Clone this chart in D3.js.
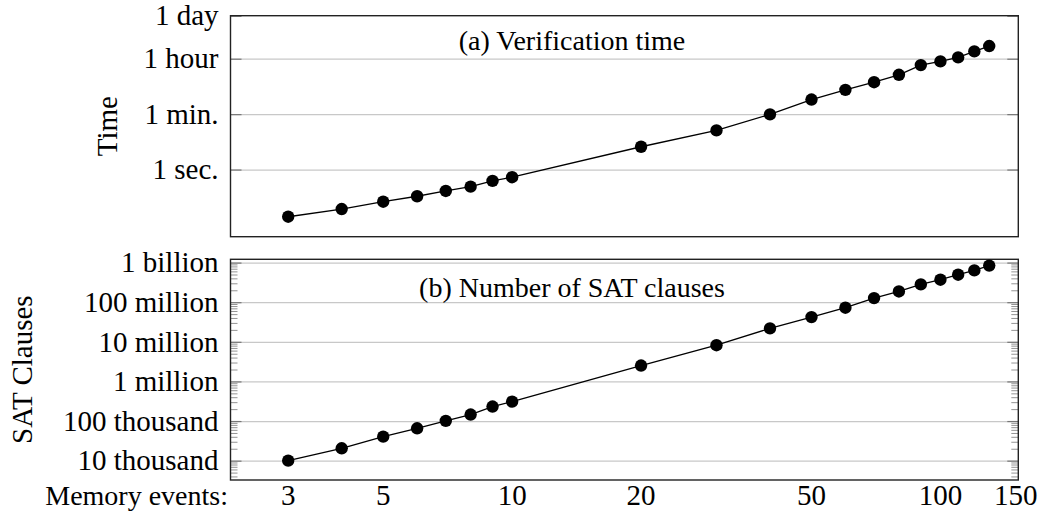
<!DOCTYPE html>
<html>
<head>
<meta charset="utf-8">
<script src="https://cdn.jsdelivr.net/npm/d3@7"></script>
<style>
  body { margin: 0; background: #fff; }
  svg { display: block; }
  svg text { font-family: "Liberation Serif", "DejaVu Serif", serif; fill: #000; }
</style>
</head>
<body>
<svg id="chart" width="1043" height="520"></svg>
<script>
// ---- data ----
const memoryEvents = [3, 4, 5, 6, 7, 8, 9, 10, 20, 30, 40, 50, 60, 70, 80, 90, 100, 110, 120, 130];
const verificationSeconds = [0.0306, 0.054, 0.093, 0.139, 0.206, 0.283, 0.432, 0.569, 5.39, 18.0, 59.1, 176, 361, 635, 1099, 2242, 2950, 3970, 6190, 9180];
const satClauses = [10000, 20500, 40400, 65600, 101000, 146000, 232000, 310000, 2520000, 8200000, 21800000, 42000000, 72600000, 127000000, 187000000, 281000000, 370000000, 494000000, 635000000, 840000000];
const xTickValues = [3, 5, 10, 20, 50, 100, 150];
const timeTickValues = [1, 60, 3600, 86400];
const timeTickLabels = ["1 sec.", "1 min.", "1 hour", "1 day"];
const clauseTickValues = [1e4, 1e5, 1e6, 1e7, 1e8, 1e9];
const clauseTickLabels = ["10 thousand", "100 thousand", "1 million", "10 million", "100 million", "1 billion"];
const titleA = "(a) Verification time";
const titleB = "(b) Number of SAT clauses";

// ---- layout ----
const svg = d3.select("#chart");
const L = 230.5, R = 1018.3;
const topA = 15.7, botA = 236.7;
const topB = 259.3, botB = 480;
const FS = 29, FT = 28;
const FONT = "Liberation Serif, DejaVu Serif, serif";

const x = d3.scaleLog().domain([2.2, 152]).range([L, R]);
const yA = d3.scaleLog().domain([0.007, 86400]).range([botA, topA]);
const yB = d3.scaleLog().domain([3250, 1.21e9]).range([botB, topB]);

function panel(y, top, bot, values, tickVals, tickLabels, minor, title, titleBaseline, ylabel, ylabelX) {
  const g = svg.append("g");
  g.append("g").attr("transform", `translate(${L},0)`)
    .call(d3.axisLeft(y).tickValues(tickVals.filter(v => y(v) > top + 1 && y(v) < bot - 1)).tickSize(-(R - L)).tickFormat(""))
    .call(s => s.select(".domain").remove())
    .call(s => s.selectAll("line").attr("stroke", "#c8c8c8").attr("stroke-width", 1.2));
  if (minor.length) {
    g.append("g").attr("transform", `translate(${L},0)`)
      .call(d3.axisLeft(y).tickValues(minor).tickSize(-7).tickFormat(""))
      .call(s => s.select(".domain").remove())
      .call(s => s.selectAll("line").attr("stroke", "#888").attr("stroke-width", 0.9));
    g.append("g").attr("transform", `translate(${R},0)`)
      .call(d3.axisRight(y).tickValues(minor).tickSize(-7).tickFormat(""))
      .call(s => s.select(".domain").remove())
      .call(s => s.selectAll("line").attr("stroke", "#888").attr("stroke-width", 0.9));
  }
  g.append("g").attr("transform", `translate(${L},0)`)
    .call(d3.axisLeft(y).tickValues(tickVals).tickSize(-11).tickFormat(""))
    .call(s => s.select(".domain").remove())
    .call(s => s.selectAll("line").attr("stroke", "#777").attr("stroke-width", 1.2));
  g.append("g").attr("transform", `translate(${R},0)`)
    .call(d3.axisRight(y).tickValues(tickVals).tickSize(-11).tickFormat(""))
    .call(s => s.select(".domain").remove())
    .call(s => s.selectAll("line").attr("stroke", "#777").attr("stroke-width", 1.2));
  g.append("g").attr("transform", `translate(${L},0)`)
    .call(d3.axisLeft(y).tickValues(tickVals).tickSize(0).tickPadding(12).tickFormat((d, i) => tickLabels[i]))
    .attr("font-family", FONT).attr("font-size", FS)
    .call(s => s.select(".domain").remove())
    .call(s => s.selectAll("text").attr("fill", "#000"));
  g.append("rect").attr("x", L).attr("y", top).attr("width", R - L).attr("height", bot - top)
    .attr("fill", "none").attr("stroke", "#222").attr("stroke-width", 1.4);
  g.append("text").attr("x", 572).attr("y", titleBaseline).attr("text-anchor", "middle")
    .attr("font-family", FONT).attr("font-size", FT).text(title);
  const line = d3.line().x((d, i) => x(memoryEvents[i])).y(d => y(d));
  g.append("path").datum(values).attr("d", line).attr("fill", "none").attr("stroke", "#000").attr("stroke-width", 1.3);
  g.selectAll("circle.pt").data(values).join("circle").attr("class", "pt")
    .attr("cx", (d, i) => x(memoryEvents[i])).attr("cy", d => y(d)).attr("r", 6.2).attr("fill", "#000");
  const cy = (top + bot) / 2;
  g.append("text").attr("transform", `translate(${ylabelX},${cy}) rotate(-90)`)
    .attr("text-anchor", "middle").attr("dominant-baseline", "central")
    .attr("font-family", FONT).attr("font-size", FS).text(ylabel);
}

const minorB = [];
for (let e = 3; e <= 9; e++) for (let m = 2; m <= 9; m++) {
  const v = m * Math.pow(10, e);
  if (v >= yB.domain()[0] && v <= yB.domain()[1]) minorB.push(v);
}

panel(yA, topA, botA, verificationSeconds, timeTickValues, timeTickLabels, [], titleA, 50, "Time", 107);
panel(yB, topB, botB, satClauses, clauseTickValues, clauseTickLabels, minorB, titleB, 297, "SAT Clauses", 22);

svg.append("g").selectAll("text").data(xTickValues).join("text")
  .attr("x", d => x(d)).attr("y", 505).attr("text-anchor", "middle")
  .attr("font-family", FONT).attr("font-size", FS).text(d => d);
svg.append("text").attr("x", 228).attr("y", 505).attr("text-anchor", "end")
  .attr("font-family", FONT).attr("font-size", FT).text("Memory events:");
</script>
</body>
</html>
